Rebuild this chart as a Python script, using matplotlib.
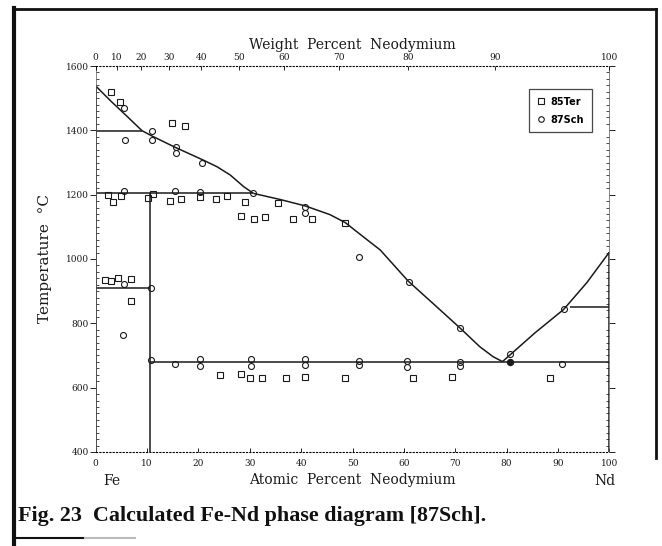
import numpy as np
import matplotlib
matplotlib.use("Agg")
import matplotlib.pyplot as plt
from matplotlib.lines import Line2D

# Atomic masses used for the weight-percent scale on the top axis
M_FE = 55.845
M_ND = 144.24

# Calculated phase boundaries (at.% Nd, temperature in C)
liq_fe_x = [0.0, 3.0, 6.0, 9.0, 11.0, 15.5, 20.6, 23.6, 26.2, 28.8, 30.7]
liq_fe_t = [1538, 1490, 1445, 1399, 1382, 1347, 1310, 1287, 1261, 1225, 1204]
liq_mid_x = [30.7, 35.9, 40.8, 45.6, 48.6, 52.1, 55.4, 60.8, 66.0, 70.9, 74.8, 77.4, 79.2]
liq_mid_t = [1204, 1185, 1165, 1138, 1113, 1069, 1028, 932, 857, 786, 727, 696, 681]
liq_nd_x = [79.2, 85.5, 91.1, 95.6, 100.0]
liq_nd_t = [681, 770, 843, 926, 1021]

delta_x = [0.0, 9.0]
delta_t = [1399, 1399]
peritectic_x = [0.0, 30.7]
peritectic_t = [1204, 1204]
gamma_x = [0.0, 10.6]
gamma_t = [909, 909]
eutectic_x = [10.6, 100.0]
eutectic_t = [681, 681]
nd_trans_x = [92.3, 100.0]
nd_trans_t = [851, 851]
fe17nd2_x = [10.6, 10.6]
fe17nd2_t = [400, 1204]
fe_side_x = [0.0, 0.0]
fe_side_t = [400, 1538]
nd_side_x = [100.0, 100.0]
nd_side_t = [400, 1021]

# Experimental points, 85Ter (squares)
ter_x = [3.0, 4.7, 14.8, 17.4,
         2.3, 3.3, 4.9, 10.1, 11.1, 14.5, 16.6, 20.3, 23.4, 25.5, 29.1, 35.5,
         28.3, 30.8, 32.9, 38.5, 42.1, 48.6,
         1.8, 2.9, 4.4, 6.8, 6.8,
         24.2, 28.2, 30.1, 32.4, 37.1, 40.7, 48.6, 61.8, 69.4, 88.5]
ter_t = [1520, 1487, 1424, 1414,
         1199, 1176, 1197, 1189, 1202, 1181, 1186, 1194, 1186, 1195, 1177, 1175,
         1134, 1124, 1131, 1124, 1124, 1111,
         935, 933, 940, 938, 870,
         638, 641, 629, 629, 629, 632, 629, 629, 634, 629]

# Experimental points, 87Sch (circles)
sch_x = [5.5, 5.7, 11.0, 11.0, 15.6, 15.6, 20.6, 30.7,
         5.6, 15.4, 20.3, 40.8, 40.8,
         51.2, 61.0, 70.9, 91.1,
         5.5, 5.3, 10.8, 10.8,
         15.4, 20.3, 20.3, 30.3, 30.3, 40.8, 40.8, 51.3, 51.3, 60.7, 60.7,
         71.0, 71.0, 80.7, 90.8]
sch_t = [1468, 1369, 1397, 1370, 1349, 1329, 1299, 1206,
         1211, 1211, 1208, 1163, 1142,
         1007, 930, 786, 843,
         922, 765, 909, 686,
         672, 688, 668, 688, 667, 690, 671, 683, 670, 684, 664,
         681, 668, 704, 673]
sch_fill_x = [80.7]
sch_fill_t = [680]

y_ticks = [400, 600, 800, 1000, 1200, 1400, 1600]
at_ticks = [0, 10, 20, 30, 40, 50, 60, 70, 80, 90, 100]
wt_ticks = [0, 10, 20, 30, 40, 50, 60, 70, 80, 90, 100]


def wt_to_at(w):
    w = np.asarray(w, dtype=float)
    n_nd = w / M_ND
    n_fe = (100.0 - w) / M_FE
    return 100.0 * n_nd / (n_nd + n_fe)


INK = "#1a1a1a"
plt.rcParams["font.family"] = ["DejaVu Serif"]

fig = plt.figure(figsize=(6.62, 5.46), dpi=100)
ax = fig.add_axes([0.1446, 0.1722, 0.7758, 0.7069])
ax.set_xlim(0, 100)
ax.set_ylim(400, 1600)

line_kw = dict(color=INK, lw=1.1, solid_capstyle="butt")
for xs, ts in [(liq_fe_x, liq_fe_t), (liq_mid_x, liq_mid_t), (liq_nd_x, liq_nd_t),
               (delta_x, delta_t), (peritectic_x, peritectic_t), (gamma_x, gamma_t),
               (eutectic_x, eutectic_t), (nd_trans_x, nd_trans_t),
               (fe17nd2_x, fe17nd2_t), (fe_side_x, fe_side_t), (nd_side_x, nd_side_t)]:
    ax.plot(xs, ts, **line_kw)

ax.plot(ter_x, ter_t, ls="none", marker="s", ms=4.2, mfc="none", mec=INK, mew=0.8)
ax.plot(sch_x, sch_t, ls="none", marker="o", ms=4.3, mfc="none", mec=INK, mew=0.8)
ax.plot(sch_fill_x, sch_fill_t, ls="none", marker="o", ms=4.3, mfc=INK, mec=INK)

# dotted frame, as printed
for side in ["top", "bottom"]:
    ax.spines[side].set_linestyle((0, (1, 2)))
    ax.spines[side].set_linewidth(0.8)
for side in ["left", "right"]:
    ax.spines[side].set_linewidth(0.5)
    ax.spines[side].set_color("#555555")

ax.set_yticks(y_ticks)
ax.set_yticklabels([str(t) for t in y_ticks], fontsize=6.5, color=INK)
ax.set_yticks(np.arange(400, 1601, 20), minor=True)
ax.tick_params(axis="y", which="major", direction="out", length=4, width=0.6, pad=1)
ax.tick_params(axis="y", which="minor", direction="in", length=2, width=0.5)
ax.tick_params(axis="y", which="both", right=True)

ax.set_xticks(at_ticks)
ax.set_xticklabels([str(t) for t in at_ticks], fontsize=6.5, color=INK)
ax.tick_params(axis="x", which="major", direction="in", length=3, width=0.6, pad=5)

ax.set_xlabel("Atomic  Percent  Neodymium", fontsize=10, color=INK, labelpad=4)
ax.set_ylabel("Temperature  \u00b0C", fontsize=11, color=INK, labelpad=10)

top = ax.twiny()
top.set_xlim(0, 100)
top.set_xticks(wt_to_at(wt_ticks))
top.set_xticklabels([str(w) for w in wt_ticks], fontsize=6.5, color=INK)
top.tick_params(axis="x", direction="in", length=3, width=0.6, pad=3)
for side in ["top", "bottom", "left", "right"]:
    top.spines[side].set_visible(False)
top.set_xlabel("Weight  Percent  Neodymium", fontsize=10, color=INK, labelpad=3)

fig.text(103 / 662, 1 - 481 / 546, "Fe", fontsize=10, color=INK, ha="left", va="center")
fig.text(605 / 662, 1 - 481 / 546, "Nd", fontsize=10, color=INK, ha="center", va="center")

handles = [
    Line2D([], [], ls="none", marker="s", ms=4.2, mfc="none", mec=INK, mew=0.8),
    Line2D([], [], ls="none", marker="o", ms=4.0, mfc="none", mec=INK, mew=0.8),
]
leg = ax.legend(handles, ["85Ter", "87Sch"], loc="upper right",
                bbox_to_anchor=((592 - 95.7) / 513.6, (452 - 89) / 386),
                prop={"family": "DejaVu Sans", "weight": "bold", "size": 7},
                frameon=True, fancybox=False, handlelength=0.8, handletextpad=0.6,
                borderpad=0.8, labelspacing=0.8, borderaxespad=0)
leg.get_frame().set_edgecolor(INK)
leg.get_frame().set_linewidth(0.9)

fig.text(18 / 662, 1 - 516 / 546, "Fig. 23  Calculated Fe-Nd phase diagram [87Sch].",
         family="Liberation Serif", weight="bold", fontsize=15.8, color="#111111",
         ha="left", va="center")

# page border
border = dict(color="#111111", transform=fig.transFigure, clip_on=False)
fig.add_artist(Line2D([14 / 662, 14 / 662], [0, 1 - 8 / 546], lw=3.0, **border))
fig.add_artist(Line2D([14 / 662, 656 / 662], [1 - 9 / 546, 1 - 9 / 546], lw=2.0, **border))
fig.add_artist(Line2D([656 / 662, 656 / 662], [1 - 9 / 546, 1 - 458 / 546], lw=2.0, **border))
fig.add_artist(Line2D([14 / 662, 85 / 662], [1 - 538 / 546, 1 - 538 / 546], lw=1.5, **border))
fig.add_artist(Line2D([85 / 662, 135 / 662], [1 - 538 / 546, 1 - 538 / 546], lw=1.5,
                      color="#bbbbbb", transform=fig.transFigure, clip_on=False))

fig.savefig("out.png", dpi=100)
